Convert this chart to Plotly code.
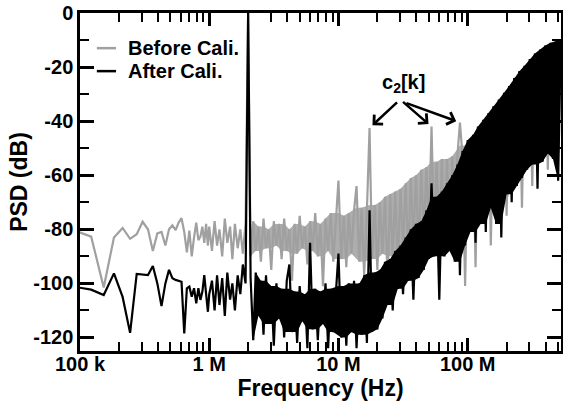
import numpy as np
import plotly.graph_objects as go

# ---------------- data ----------------
# low-frequency FFT bins (Hz) -- sparse part of the spectrum
low_freq_hz = [91553, 122070, 152588, 183106, 213623, 244141, 274658, 305176,
               335693, 366211, 396729, 427246, 457764, 488281, 518799, 549316,
               579834, 610352, 640869, 671387, 701904, 732422, 762939, 793457,
               823975, 854492, 885010, 915527, 946045, 976563]
before_low_db = [-80.5, -82.7, -101.5, -83, -79.5, -83.5, -81.8, -77.2, -80, -88,
                 -81.5, -81, -86, -80, -78.5, -80.3, -77.5, -75.9, -81, -88.5,
                 -80.5, -90, -83, -77.5, -84, -82.7, -79, -85, -78, -86]
after_low_db = [-101.3, -102.3, -104.3, -96.3, -105, -118.3, -96.5, -96.7, -96.9, -93.6,
                -100, -108.4, -100, -95, -98.1, -98.7, -99, -99.4, -118.5, -101.8,
                -101.2, -104.9, -101.8, -107.4, -101.8, -106.1, -103, -96.9, -104, -110.5]

# dense part: sample frequencies = mantissa x decade
mantissa = [1.0, 1.05, 1.1, 1.15, 1.2, 1.26, 1.32, 1.38, 1.45, 1.51, 1.58, 1.66, 1.74,
            1.82, 1.91, 2.0, 2.09, 2.19, 2.29, 2.4, 2.51, 2.63, 2.75, 2.88, 3.02, 3.16,
            3.31, 3.47, 3.63, 3.8, 3.98, 4.17, 4.37, 4.57, 4.79, 5.01, 5.25, 5.5, 5.75,
            6.03, 6.31, 6.61, 6.92, 7.24, 7.59, 7.94, 8.32, 8.71, 9.12, 9.55]
decades_hz = [1e6, 1e7, 1e8]
max_freq_hz = 5.25e8

before_dense_db = [
    # 1 MHz - 10 MHz
    -79, -88, -77, -86, -80, -90, -76, -85, -79, -91, -78, -87, -80, -89, -78,
    0,
    -90, -77, -88, -79, -92, -76, -87, -80, -95, -77, -86, -78, -91, -76, -88, -80, -99,
    -78, -89, -75, -87, -79, -93, -77, -88, -74, -90, -78, -101, -76, -88, -74, -92, -77,
    # 10 MHz - 100 MHz
    -62, -91, -75, -94, -74, -89, -73, -64, -92, -72, -97, -73, -42.5, -91, -71, -95,
    -70, -89, -68, -99, -67, -90, -66, -93, -65, -86, -63, -90, -61, -84, -60, -88,
    -58, -82, -57, -80, -42, -84, -55, -86, -54, -88, -54, -85, -53, -86, -53, -40.5,
    -53, -101,
    # 100 MHz - 525 MHz
    -49, -78, -46, -94, -43, -74, -41, -72, -38, -86, -36, -68, -33, -70, -30.5, -75,
    -28, -64, -25, -62, -22.5, -72, -20.5, -56, -18, -64, -16, -54, -14.5, -52, -13,
    -58, -12, -50, -11.5, -52, -11,
]
after_dense_db = [
    # 1 MHz - 10 MHz
    -104, -99, -110, -97, -108, -98, -112, -96, -106, -100, -110, -97, -104, -93, -100,
    0,
    -98, -121, -96, -112, -99, -119, -97, -115, -101, -123, -100, -113, -102, -120, -99,
    -93, -118, -103, -122, -101, -114, -104, -124, -85, -117, -102, -121, -103, -115,
    -100, -124, -102, -118, -104,
    # 10 MHz - 100 MHz
    -89, -120, -101, -123, -100, -118, -99, -124, -100, -119, -97, -122, -73, -118, -96,
    -117, -95, -113, -92, -108, -91, -110, -88, -102, -86, -104, -83, -99, -80, -106,
    -78, -98, -77, -95, -73, -91, -63, -90, -68, -106, -66, -90, -63, -88, -60, -92,
    -56, -97, -51, -86,
    # 100 MHz - 525 MHz
    -47, -81, -45, -85, -42, -78, -39.5, -81, -37, -72, -34.5, -78, -32, -83, -29.5, -67,
    -27, -70, -24, -64, -21.5, -61, -19.5, -58, -17, -56, -15, -65, -13.5, -55, -12,
    -52, -11, -54, -10.5, -62, -10,
]

c2_spur_hz = [1.74e7, 5.25e7, 8.71e7]
tone_hz = 2.0e6

x_tick_vals = [1e5, 1e6, 1e7, 1e8]
x_tick_text = ["100 k", "1 M", "10 M", "100 M"]
y_tick_vals = [0, -20, -40, -60, -80, -100, -120]
y_tick_text = ["0", "-20", "-40", "-60", "-80", "-100", "-120"]

series_names = ["Before Cali.", "After Cali."]
series_colors = ["#a0a0a0", "black"]
band_colors = ["#adadad", "black"]

# ---------------- build ----------------
dense_freq_hz = [m * d for d in decades_hz for m in mantissa if m * d <= max_freq_hz * 1.0001]
freq_hz = low_freq_hz + dense_freq_hz
series_db = [before_low_db + before_dense_db, after_low_db + after_dense_db]

# dense band (everything above the 2 MHz tone) is rendered as a filled envelope
band_start = freq_hz.index(next(f for f in freq_hz if abs(f - tone_hz) < 1e3)) + 1


def envelope(xs, ys, start):
    hx, hy, lx, ly = [], [], [], []
    n = len(ys)
    for i in range(start, n):
        p = ys[i - 1]
        q = ys[i + 1] if i + 1 < n else ys[i - 1]
        if ys[i] >= p and ys[i] >= q:
            hx.append(xs[i]); hy.append(ys[i])
        elif ys[i] <= p and ys[i] <= q:
            lx.append(xs[i]); ly.append(ys[i])
    # isolated spurs / dips stay as thin lines: clip them in the fill only
    hy_c = [min(hy[k], max(hy[max(k - 1, 0)], hy[min(k + 1, len(hy) - 1)])) for k in range(len(hy))]
    ly_c = [max(ly[k], min(ly[max(k - 1, 0)], ly[min(k + 1, len(ly) - 1)])) for k in range(len(ly))]
    return hx + lx[::-1], hy_c + ly_c[::-1]


FONT = "Liberation Sans, Arial, Helvetica, sans-serif"

fig = go.Figure()
for name, color, bcolor, ys in zip(series_names, series_colors, band_colors, series_db):
    bx, by = envelope(freq_hz, ys, band_start)
    fig.add_trace(go.Scatter(x=bx, y=by, mode="lines", fill="toself", fillcolor=bcolor,
                             line=dict(width=0, color=bcolor), showlegend=False,
                             hoverinfo="skip"))
    fig.add_trace(go.Scatter(x=freq_hz, y=ys, mode="lines", name=name,
                             line=dict(color=color, width=2.2), showlegend=False))

axis_common = dict(showline=True, linecolor="black", linewidth=2.5, mirror="allticks",
                   ticks="inside", tickcolor="black", tickwidth=2.5, showgrid=False,
                   zeroline=False, automargin=False, ticklabeloverflow="allow",
                   tickfont=dict(family=FONT, size=20, color="black", weight="bold"))

fig.update_xaxes(type="log", range=[5, 8.722], tickmode="array", tickvals=x_tick_vals,
                 ticktext=x_tick_text, ticklen=13, ticklabelstandoff=-7,
                 minor=dict(ticks="inside", ticklen=9, tickwidth=2, tickcolor="black",
                            dtick="D1", showgrid=False),
                 title=dict(text="Frequency (Hz)", standoff=0,
                            font=dict(family=FONT, size=23, color="black", weight="bold")),
                 **axis_common)
fig.update_yaxes(range=[-125, 0], tickmode="array", tickvals=y_tick_vals,
                 ticktext=y_tick_text, ticklen=14,
                 minor=dict(ticks="inside", ticklen=9, tickwidth=2, tickcolor="black",
                            dtick=10, tick0=0, showgrid=False),
                 title=dict(text="PSD (dB)", standoff=0,
                            font=dict(family=FONT, size=23, color="black", weight="bold")),
                 **axis_common)

# legend drawn as line samples + labels at the top left of the plot
legend_rows_y = [0.896, 0.828]
for name, color, ly in zip(series_names, series_colors, legend_rows_y):
    fig.add_shape(type="line", xref="paper", yref="paper", x0=0.035, x1=0.075, y0=ly, y1=ly,
                  line=dict(color=color, width=2.5))
    fig.add_annotation(x=0.095, y=ly, xref="paper", yref="paper", xanchor="left",
                       yanchor="middle", showarrow=False, text=name,
                       font=dict(family=FONT, size=20, color="black", weight="bold"))

# c2[k] label and arrows to the spurs of the uncalibrated spectrum
fig.add_annotation(x=7.505, y=-26.0, xref="x", yref="y", showarrow=False,
                   text="c<sub>2</sub>[k]",
                   font=dict(family=FONT, size=20, color="black", weight="bold"))
arrow_offsets = [(29, -27), (-30, -26), (-55, -20)]
for f, (ax, ay) in zip(c2_spur_hz, arrow_offsets):
    idx = freq_hz.index(next(v for v in freq_hz if abs(v - f) < 1e3))
    fig.add_annotation(x=np.log10(freq_hz[idx]), y=series_db[0][idx], xref="x", yref="y",
                       text="", showarrow=True, ax=ax, ay=ay, axref="pixel", ayref="pixel",
                       arrowhead=4, arrowsize=1, arrowwidth=2.5, arrowcolor="black",
                       standoff=4)

fig.update_layout(
    width=563, height=405,
    margin=dict(l=80, r=2, t=13, b=54),
    paper_bgcolor="white", plot_bgcolor="white",
    showlegend=False,
)

# remove the default 8 px page margin so the figure fills the window exactly
fig.write_html("out.html", config={"displayModeBar": False},
               post_script="document.body.style.margin='0px';")
